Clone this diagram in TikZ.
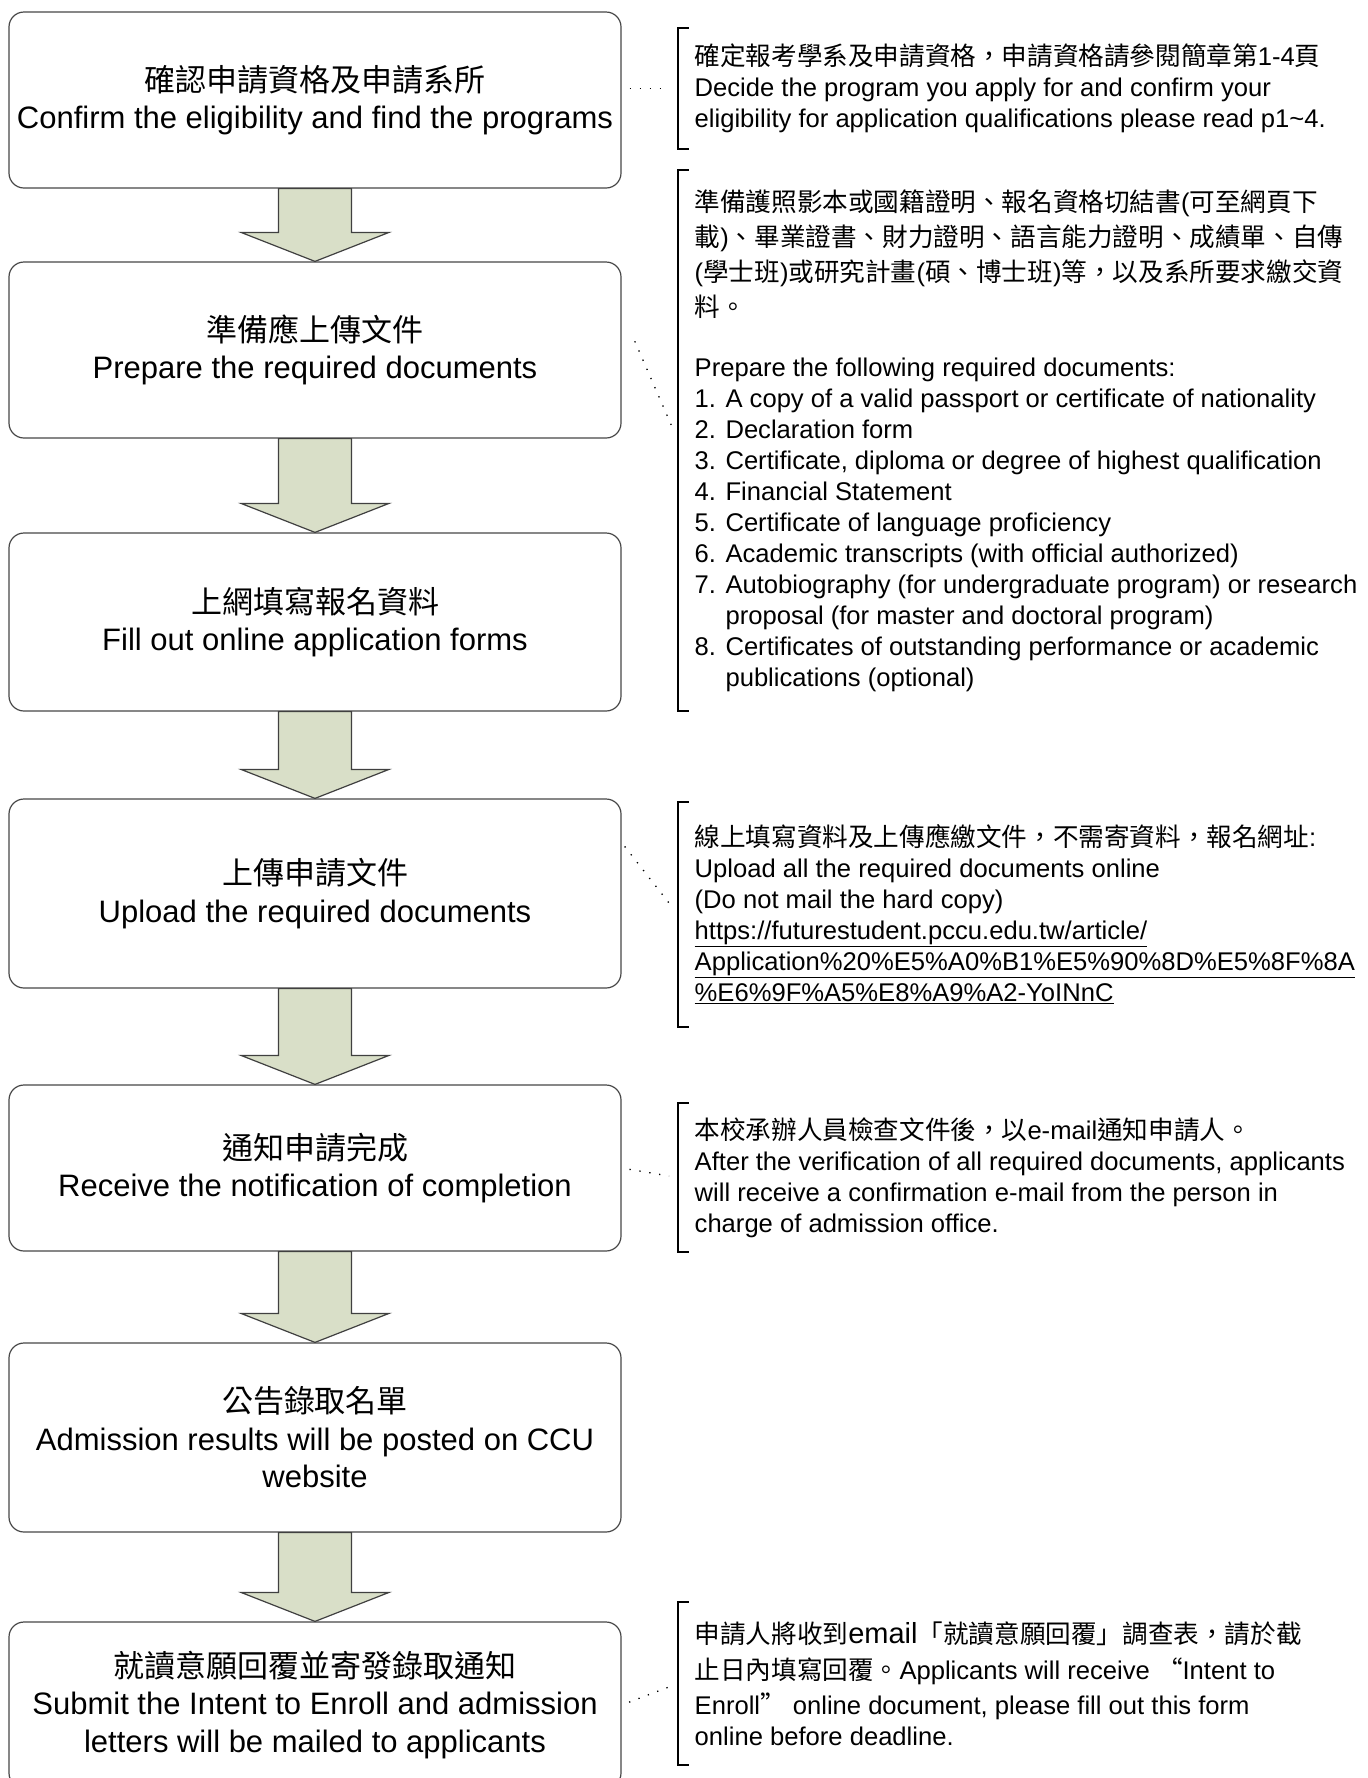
\documentclass[tikz,border=0pt]{standalone}
\usepackage{fontspec}
\setmainfont{Liberation Sans}
\newfontfamily\cjkfont{Noto Sans CJK TC}
\usepackage{tikz}
\usetikzlibrary{calc}
\definecolor{arrowfill}{RGB}{217,223,200}
\definecolor{boxline}{RGB}{72,72,72}
\newcommand{\zh}[1]{{\cjkfont #1}}
\newcommand{\blockarrow}[2]{%
  \draw[flowarrow] ($(#1.south)+(-36.5,0)$) -- ($(#2.north)+(-36.5,29)$)
    -- ($(#2.north)+(-74,29)$) -- (#2.north) -- ($(#2.north)+(74,29)$)
    -- ($(#2.north)+(36.5,29)$) -- ($(#1.south)+(36.5,0)$) -- cycle;}

\begin{document}
\begin{tikzpicture}[x=1pt,y=1pt,
    stepbox/.style={draw=boxline,line width=1.2pt,rounded corners=15pt,fill=white,
      minimum width=612pt,inner sep=0pt,align=center,font={\fontsize{31}{37.5}\selectfont}},
    note/.style={anchor=west,align=left,inner xsep=16.5pt,inner ysep=0pt,
      font={\fontsize{25.6}{31}\selectfont}},
    bracketline/.style={line width=1.6pt},
    dotline/.style={line width=1.3pt,dash pattern=on 1.3pt off 8.7pt,
      shorten <=8pt,shorten >=9pt},
    flowarrow/.style={draw=black!75,line width=1.2pt,fill=arrowfill}]

    % Page
    \path[use as bounding box,fill=white] (0,0) rectangle (1368,-1778);

    % Steps
    \node[stepbox,minimum height=176pt] (b1) at (315,-100)
        {\zh{確認申請資格及申請系所}\\Confirm the eligibility and find the programs};
    \node[stepbox,minimum height=176pt] (b2) at (315,-350)
        {\zh{準備應上傳文件}\\Prepare the required documents};
    \node[stepbox,minimum height=178pt] (b3) at (315,-622)
        {\zh{上網填寫報名資料}\\Fill out online application forms};
    \node[stepbox,minimum height=189pt] (b4) at (315,-893.5)
        {\zh{上傳申請文件}\\Upload the required documents};
    \node[stepbox,minimum height=166pt] (b5) at (315,-1168)
        {\zh{通知申請完成}\\Receive the notification of completion};
    \node[stepbox,minimum height=189pt] (b6) at (315,-1437.5)
        {\zh{公告錄取名單}\\Admission results will be posted on CCU\\website};
    \node[stepbox,minimum height=166pt] (b7) at (315,-1705)
        {\zh{就讀意願回覆並寄發錄取通知}\\Submit the Intent to Enroll and admission\\letters will be mailed to applicants};

    % Arrows between steps
    \blockarrow{b1}{b2}
    \blockarrow{b2}{b3}
    \blockarrow{b3}{b4}
    \blockarrow{b4}{b5}
    \blockarrow{b5}{b6}
    \blockarrow{b6}{b7}

    % Notes
    \node[note,minimum height=121pt] (n1) at (678,-88.5)
        {\zh{確定報考學系及申請資格，申請資格請參閱簡章第}1-4\zh{頁}\\
         Decide the program you apply for and confirm your\\
         eligibility for application qualifications please read p1\textasciitilde 4.};
    \node[note,minimum height=541pt] (n2) at (678,-440.5)
        {\zh{準備護照影本或國籍證明、報名資格切結書}(\zh{可至網頁下}\\[4pt]
         \zh{載})\zh{、畢業證書、財力證明、語言能力證明、成績單、自傳}\\[4pt]
         (\zh{學士班})\zh{或研究計畫}(\zh{碩、博士班})\zh{等，以及系所要求繳交資}\\[4pt]
         \zh{料。}\\[29pt]
         Prepare the following required documents:\\
         1. A copy of a valid passport or certificate of nationality\\
         2. Declaration form\\
         3. Certificate, diploma or degree of highest qualification\\
         4. Financial Statement\\
         5. Certificate of language proficiency\\
         6. Academic transcripts (with official authorized)\\
         7. Autobiography (for undergraduate program) or research\\
         \phantom{7. }proposal (for master and doctoral program)\\
         8. Certificates of outstanding performance or academic\\
         \phantom{8. }publications (optional)};
    \node[note,minimum height=225pt] (n3) at (678,-914.5)
        {\zh{線上填寫資料及上傳應繳文件，不需寄資料，報名網址}:\\
         Upload all the required documents online\\
         (Do not mail the hard copy)\\
         \underline{https://futurestudent.pccu.edu.tw/article/}\\
         \underline{Application\%20\%E5\%A0\%B1\%E5\%90\%8D\%E5\%8F\%8A}\\
         \underline{\%E6\%9F\%A5\%E8\%A9\%A2-YoINnC}};
    \node[note,minimum height=149pt] (n4) at (678,-1177.5)
        {\zh{本校承辦人員檢查文件後，以}e-mail\zh{通知申請人。}\\
         After the verification of all required documents, applicants\\
         will receive a confirmation e-mail from the person in\\
         charge of admission office.};
    \node[note,minimum height=163pt] (n5) at (678,-1683.5)
        {\zh{申請人將收到}{\fontsize{29}{31}\selectfont email}\zh{「就讀意願回覆」調查表，請於截}\\[5pt]
         \zh{止日內填寫回覆。}Applicants will receive \zh{“}Intent to\\[4pt]
         Enroll\zh{”} online document, please fill out this form\\
         online before deadline.};

    % Brackets
    \draw[bracketline] ([xshift=10.5pt]n1.north west) -- (n1.north west) -- (n1.south west) -- ([xshift=10.5pt]n1.south west);
    \draw[bracketline] ([xshift=10.5pt]n2.north west) -- (n2.north west) -- (n2.south west) -- ([xshift=10.5pt]n2.south west);
    \draw[bracketline] ([xshift=10.5pt]n3.north west) -- (n3.north west) -- (n3.south west) -- ([xshift=10.5pt]n3.south west);
    \draw[bracketline] ([xshift=10.5pt]n4.north west) -- (n4.north west) -- (n4.south west) -- ([xshift=10.5pt]n4.south west);
    \draw[bracketline] ([xshift=10.5pt]n5.north west) -- (n5.north west) -- (n5.south west) -- ([xshift=10.5pt]n5.south west);

    % Dotted callouts
    \draw[dotline] (b1.east |- n1.west) -- (n1.west);
    \draw[dotline,shorten <=33pt] ([yshift=39pt]b2.east) -- (n2.west);
    \draw[dotline,shorten <=5pt] ([yshift=51pt]b4.east) -- (n3.west);
    \draw[dotline] (b5.east) -- (n4.west);
    \draw[dotline] (b7.east) -- (n5.west);

\end{tikzpicture}
\end{document}
